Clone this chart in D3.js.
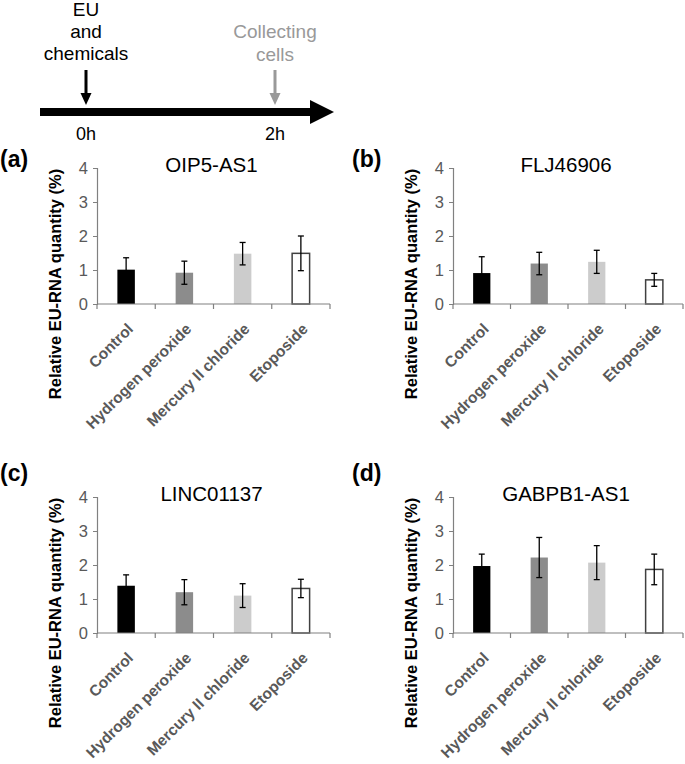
<!DOCTYPE html>
<html><head><meta charset="utf-8">
<script src="https://cdn.jsdelivr.net/npm/d3@7"></script>
<style>body{margin:0;background:#fff}svg{display:block}text{font-family:"Liberation Sans",Arial,sans-serif}</style>
</head><body>
<script>
const categories = ["Control", "Hydrogen peroxide", "Mercury II chloride", "Etoposide"];
const genes = ["OIP5-AS1", "FLJ46906", "LINC01137", "GABPB1-AS1"];
const panelLetters = ["(a)", "(b)", "(c)", "(d)"];
const meansA = [1.01, 0.92, 1.48, 1.49];
const errA   = [0.35, 0.34, 0.33, 0.51];
const meansB = [0.91, 1.19, 1.24, 0.71];
const errB   = [0.48, 0.33, 0.34, 0.19];
const meansC = [1.39, 1.20, 1.10, 1.31];
const errC   = [0.32, 0.37, 0.35, 0.27];
const meansD = [1.97, 2.22, 2.07, 1.87];
const errD   = [0.35, 0.59, 0.50, 0.45];
const yTicks = [0, 1, 2, 3, 4];
const yLabel = "Relative EU-RNA quantity (%)";
const timeLabels = ["0h", "2h"];

const W = 685, H = 764;
const svg = d3.select("body").append("svg").attr("width", W).attr("height", H);
svg.append("rect").attr("width", W).attr("height", H).attr("fill", "#fff");

// ---- timeline ----
const tl = svg.append("g");
const tx = d3.scaleLinear().domain([0, 2]).range([86, 275]);
tl.append("rect").attr("x", 40).attr("y", 108).attr("width", 272).attr("height", 8).attr("fill", "#000");
tl.append("path").attr("d", "M310,100 L334,112 L310,124 Z").attr("fill", "#000");
function smallArrow(x, color) {
  tl.append("rect").attr("x", x - 1.5).attr("y", 70).attr("width", 3).attr("height", 25).attr("fill", color);
  tl.append("path").attr("d", `M${x-5.5},93 L${x+5.5},93 L${x},105 Z`).attr("fill", color);
}
smallArrow(tx(0), "#000");
smallArrow(tx(2), "#999");
[["EU", 16], ["and", 38], ["chemicals", 60]].forEach(([t, y]) =>
  tl.append("text").attr("x", tx(0)).attr("y", y).attr("text-anchor", "middle").attr("font-size", 19).attr("fill", "#000").text(t));
[["Collecting", 38], ["cells", 61]].forEach(([t, y]) =>
  tl.append("text").attr("x", tx(2)).attr("y", y).attr("text-anchor", "middle").attr("font-size", 19).attr("fill", "#999").text(t));
timeLabels.forEach((t, i) =>
  tl.append("text").attr("x", tx(i * 2)).attr("y", 140).attr("text-anchor", "middle").attr("font-size", 18).attr("fill", "#000").text(t));

// ---- panels ----
const panels = [
  {means: meansA, err: errA, x0: 97, x1: 330, yb: 304, yt: 168, lx: 0, ly: 167},
  {means: meansB, err: errB, x0: 453, x1: 683, yb: 304, yt: 168, lx: 352, ly: 167},
  {means: meansC, err: errC, x0: 97, x1: 330, yb: 633, yt: 497, lx: 0, ly: 481},
  {means: meansD, err: errD, x0: 453, x1: 683, yb: 633, yt: 497, lx: 352, ly: 481}
];
const fills = ["#000000", "#8c8c8c", "#cccccc", "#ffffff"];
const strokes = ["#000000", "#8c8c8c", "#cccccc", "#404040"];

panels.forEach((p, pi) => {
  const g = svg.append("g");
  const x = d3.scaleBand().domain(categories).range([p.x0, p.x1]).paddingInner(0).paddingOuter(0);
  const y = d3.scaleLinear().domain([0, 4]).range([p.yb, p.yt]);

  // y axis
  const ya = g.append("g").attr("transform", `translate(${p.x0},0)`)
    .call(d3.axisLeft(y).tickValues(yTicks).tickFormat(d3.format("d")).tickSize(4).tickPadding(5));
  ya.select(".domain").attr("stroke", "#808080").attr("stroke-width", 1.2);
  ya.selectAll(".tick line").attr("stroke", "#808080");
  ya.selectAll("text").attr("font-size", 16.5).attr("fill", "#595959").attr("font-family", "Liberation Sans, Arial, sans-serif");

  // bars
  const bw = x.bandwidth() * 0.3;
  categories.forEach((c, i) => {
    const cx = x(c) + x.bandwidth() / 2;
    g.append("rect").attr("x", cx - bw / 2).attr("y", y(p.means[i]))
      .attr("width", bw).attr("height", y(0) - y(p.means[i]))
      .attr("fill", fills[i]).attr("stroke", strokes[i]).attr("stroke-width", i === 3 ? 1.5 : 0);
    const hi = y(p.means[i] + p.err[i]), lo = y(p.means[i] - p.err[i]);
    g.append("line").attr("x1", cx).attr("x2", cx).attr("y1", hi).attr("y2", lo).attr("stroke", "#000").attr("stroke-width", 1.3);
    [hi, lo].forEach(v => g.append("line").attr("x1", cx - 3).attr("x2", cx + 3).attr("y1", v).attr("y2", v).attr("stroke", "#000").attr("stroke-width", 1.3));
  });

  // x axis
  g.append("line").attr("x1", p.x0).attr("x2", p.x1).attr("y1", y(0)).attr("y2", y(0)).attr("stroke", "#808080").attr("stroke-width", 1.2);
  const bounds = categories.map(c => x(c)).concat([p.x1]);
  bounds.forEach(b => g.append("line").attr("x1", b).attr("x2", b).attr("y1", y(0)).attr("y2", y(0) + 5).attr("stroke", "#808080").attr("stroke-width", 1.2));
  categories.forEach(c => {
    const cx = x(c) + x.bandwidth() / 2;
    g.append("text").attr("transform", `translate(${cx + 8},${y(0) + 26}) rotate(-45)`)
      .attr("text-anchor", "end").attr("font-size", 15.5).attr("font-weight", "bold").attr("fill", "#595959").text(c);
  });

  // y label
  g.append("text").attr("transform", `translate(${p.x0 - 36},${p.yb - 20}) rotate(-90)`)
    .attr("text-anchor", "middle").attr("font-size", 16.5).attr("font-weight", "bold").attr("fill", "#000").text(yLabel);

  // title & letter
  g.append("text").attr("x", (p.x0 + p.x1) / 2 - 2).attr("y", p.yt + 4).attr("text-anchor", "middle")
    .attr("font-size", 20.5).attr("fill", "#000").text(genes[pi]);
  g.append("text").attr("x", p.lx).attr("y", p.ly).attr("font-size", 23).attr("font-weight", "bold").attr("fill", "#000").text(panelLetters[pi]);
});
</script>
</body></html>
